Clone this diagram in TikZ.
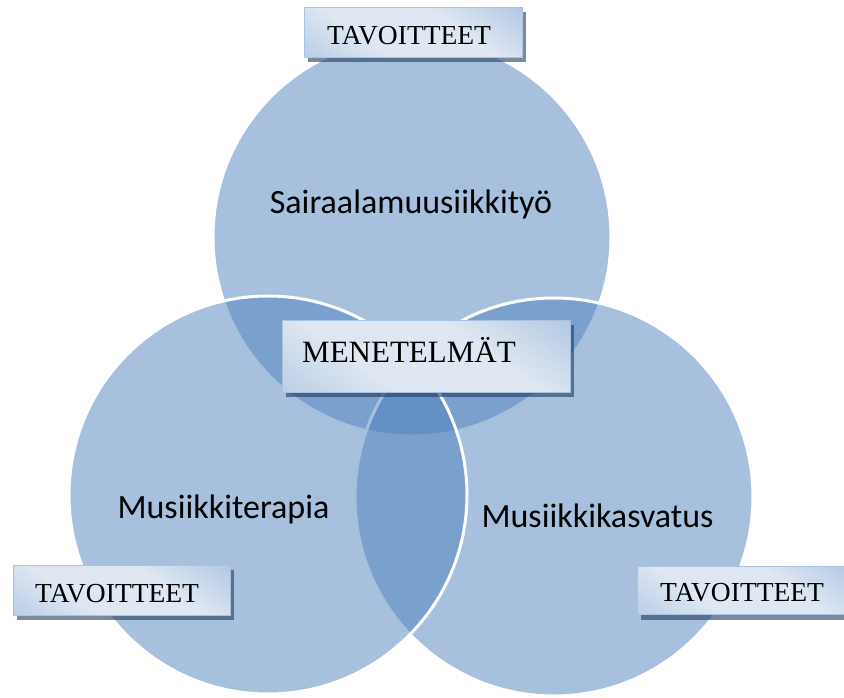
\documentclass[tikz,border=0pt]{standalone}
\usepackage{fontspec}
\setmainfont{Liberation Serif}
\newfontfamily\calibri{Carlito}
\usetikzlibrary{shadows}
\definecolor{circ}{HTML}{4F81BD}
\definecolor{boxdark}{HTML}{95B3D8}
\definecolor{boxlight}{HTML}{DEE7F2}
\definecolor{boxdark2}{HTML}{9FBBDD}
\definecolor{boxedge}{HTML}{A9C2E0}
\definecolor{shadowc}{HTML}{1F3B5E}
\pgfdeclareverticalshading{glossshade}{100bp}{color(0bp)=(boxdark2); color(36bp)=(boxlight); color(62bp)=(boxlight); color(100bp)=(boxdark)}
\begin{document}
\begin{tikzpicture}[x=1pt,y=-1pt,
  venn/.style={circle, minimum size=398pt, inner sep=0pt, outer sep=0pt,
    fill=circ, fill opacity=0.5, draw=white, draw opacity=1, line width=3pt},
  glossbox/.style={rectangle, inner sep=0pt, outer sep=0pt,
    shading=glossshade, shading angle=-35, draw=boxedge, line width=0.8pt,
    drop shadow={shadow xshift=4pt, shadow yshift=-5pt, fill=shadowc, opacity=0.6}},
  serifl/.style={anchor=base west, inner sep=0pt, font=\fontsize{27.5}{32}\selectfont},
  sansl/.style={anchor=base, inner sep=0pt, font=\calibri\fontsize{34}{40}\selectfont}
]
\useasboundingbox (0,0) rectangle (844,697);
\clip (0,0) rectangle (844,697);
% circles
\node[venn] (ctop) at (412,237) {};
\node[venn] (cright) at (554,497) {};
\node[venn] (cleft) at (268,495) {};
% boxes
\node[glossbox, minimum width=218pt, minimum height=50pt] (btop) at (413,32) {};
\node[glossbox, minimum width=217pt, minimum height=50pt] (bleft) at (121.5,590) {};
\node[glossbox, minimum width=217pt, minimum height=48pt] (bright) at (745.5,590.5) {};
\node[glossbox, minimum width=288pt, minimum height=72pt] (bmid) at (426,356) {};
% box texts
\node[serifl] (ttop) at (327,44) {TAVOITTEET};
\node[serifl] (tleft) at (35,602) {TAVOITTEET};
\node[serifl] (tright) at (660,601) {TAVOITTEET};
\node[serifl, font=\fontsize{31}{36}\selectfont] (tmid) at (302,362) {MENETELMÄT};
% circle labels
\node[sansl] (ltop) at (411,213) {Sairaalamuusiikkityö};
\node[sansl] (lleft) at (223.5,518) {Musiikkiterapia};
\node[sansl] (lright) at (597.5,527) {Musiikkikasvatus};
\end{tikzpicture}
\end{document}
